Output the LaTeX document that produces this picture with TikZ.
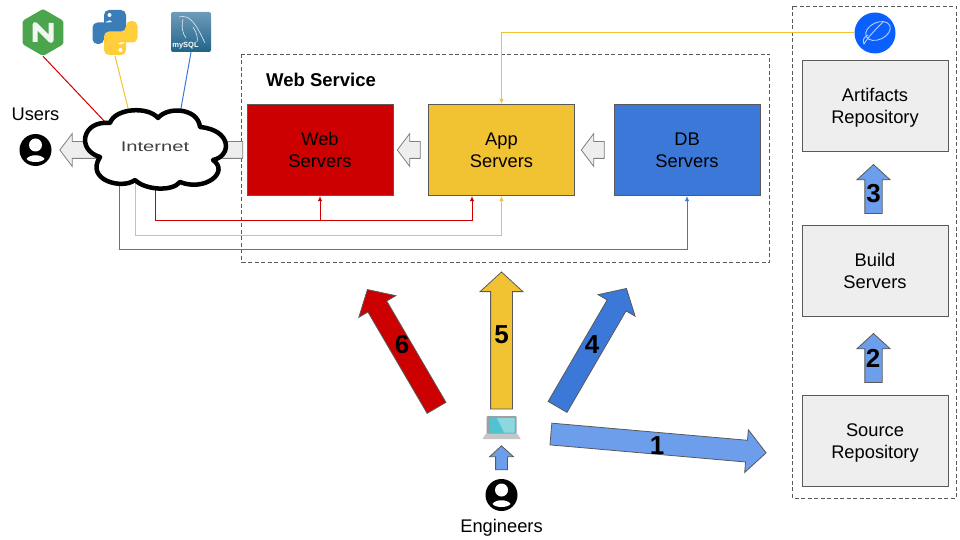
\documentclass[tikz,border=0pt]{standalone}
\usepackage{fontspec}
\setmainfont{Liberation Sans}
\usetikzlibrary{arrows.meta,shapes.arrows,shapes.geometric}
\definecolor{webred}{HTML}{CC0000}
\definecolor{appyellow}{HTML}{F1C232}
\definecolor{dbblue}{HTML}{3C78D8}
\definecolor{stepblue}{HTML}{6D9EEB}
\definecolor{boxgrey}{HTML}{EEEEEE}
\definecolor{edgegrey}{HTML}{595959}
\definecolor{nginxgreen}{HTML}{4AA54C}
\definecolor{pyblue}{HTML}{3B7DB8}
\definecolor{pyyellow}{HTML}{FFCE3A}
\definecolor{dicon}{HTML}{0A60FF}
\definecolor{sqltop}{HTML}{6F9BBA}
\definecolor{sqlbottom}{HTML}{1F6489}
\definecolor{screenteal}{HTML}{4FC3D1}
\definecolor{screenlight}{HTML}{8DD7DF}
\begin{document}
\begin{tikzpicture}[x=1pt,y=-1pt,
		box/.style = {shape=rectangle, draw=edgegrey, line width=1pt, align=center,
			minimum width=146pt, minimum height=91pt, inner sep=0pt,
			font=\fontsize{18.3}{22}\selectfont},
		repobox/.style = {box, fill=boxgrey, text depth=0pt},
		group/.style = {draw=edgegrey, line width=0.8pt, dash pattern=on 4pt off 2.5pt},
		arrowbase/.style = {single arrow, draw=edgegrey, line width=0.8pt, inner sep=0pt,
			single arrow tip angle=95, text depth=0pt, text width=0pt},
		bigarrow/.style = {arrowbase, text height=21pt, single arrow head extend=10.5pt},
		steparrow/.style = {arrowbase, fill=stepblue, rotate=90, text height=16.5pt,
			single arrow head extend=8pt, minimum height=49pt},
		greyarrow/.style = {arrowbase, fill=boxgrey, draw=gray, rotate=180, text height=16pt,
			single arrow head extend=8pt, single arrow tip angle=106},
		number/.style = {font=\fontsize{26}{26}\bfseries\selectfont, inner sep=0pt},
		label/.style = {font=\fontsize{18.3}{22}\selectfont, inner sep=0pt},
		link/.style = {line width=1pt},
		tip/.style = {-{Latex[length=5pt,width=4.5pt]}},
		usericon/.style = {shape=circle, fill=black, minimum size=32pt, inner sep=0pt}]
	\useasboundingbox (0,0) rectangle (960,540);

	% dashed groups
	\draw[group] (241.5,54) rectangle (769.5,262);
	\draw[group] (792.5,6) rectangle (956,498);
	\node[font=\fontsize{18.5}{22}\bfseries\selectfont, inner sep=0pt] (webservice) at (321,79.5) {Web Service};

	% servers
	\node[box, fill=webred] (webbox) at (320,150) {Web\\Servers};
	\node[box, fill=appyellow] (appbox) at (501.5,150) {App\\Servers};
	\node[box, fill=dbblue] (dbbox) at (687,150) {DB\\Servers};
	\node[repobox] (artifacts) at (875,106) {Artifacts\\Repository};
	\node[repobox] (build) at (875,271) {Build\\Servers};
	\node[repobox] (source) at (875,441) {Source\\Repository};

	% grey arrows
	\node[greyarrow, minimum height=183pt] (usersarrow) at (154.5,150) {};
	\node[greyarrow, minimum height=23pt] (webarrow) at (412,150) {};
	\node[greyarrow, minimum height=23pt] (apparrow) at (596,150) {};

	% numbered arrows
	\node[bigarrow, fill=stepblue, rotate=-5, minimum height=216pt] (stepone) at (653.5,443) {};
	\node[steparrow] (steptwo) at (873.5,362) {};
	\node[steparrow] (stepthree) at (873.5,193) {};
	\node[bigarrow, fill=dbblue, rotate=59.8, minimum height=137pt] (stepfour) at (589.5,352) {};
	\node[bigarrow, fill=appyellow, rotate=90, minimum height=137pt] (stepfive) at (501.5,345.5) {};
	\node[bigarrow, fill=webred, rotate=120.3, minimum height=137pt] (stepsix) at (404.5,353) {};
	\node[arrowbase, fill=stepblue, rotate=90, text height=11pt, minimum height=24pt,
		single arrow head extend=6pt] (laptoparrow) at (501.5,460.5) {};
	\node[number] (numone) at (657,446) {1};
	\node[number] (numtwo) at (873,358) {2};
	\node[number] (numthree) at (873.5,194) {3};
	\node[number] (numfour) at (592,345) {4};
	\node[number] (numfive) at (501.5,335) {5};
	\node[number] (numsix) at (402,345) {6};

	% logos
	\node[regular polygon, regular polygon sides=6, regular polygon rotate=30, fill=nginxgreen,
		rounded corners=1.5pt, minimum size=47pt, inner sep=0pt] (nginx) at (43,32.5) {};
	\draw[white!92!nginxgreen, line width=5pt, line join=round] (35,42) -- (35,24.5) -- (51,40.5) -- (51,23);
	\node[minimum size=46pt, inner sep=0pt] (python) at (115,32.5) {};
	\foreach \pycolor/\pyangle in {pyblue/0,pyyellow/180} {
		\begin{scope}[rotate around={\pyangle:(115,32.5)}]
			\fill[\pycolor, rounded corners=5pt] (104,22) -- (104,10) -- (126,10) -- (126,33.5)
				-- (104,33.5) -- (104,44) -- (92.5,44) -- (92.5,22.5) -- (115,22.5) -- (115,20.5) -- (104,20.5) -- cycle;
			\fill[white] (109.5,15) circle (2pt);
		\end{scope}
	}
	\node[rounded corners=2pt, top color=sqltop, bottom color=sqlbottom,
		minimum size=40pt, inner sep=0pt] (mysql) at (191,32) {};
	\draw[white!85!pyblue, line width=0.6pt] (179,17) .. controls (190,14) and (196,24) .. (205,43)
		(183,19) .. controls (181,28) and (183,34) .. (186,38) (193,27) .. controls (197,33) and (198,38) .. (197,42);
	\node[text=white, font=\fontsize{7.5}{8}\bfseries\selectfont, inner sep=0pt] (mysqltext) at (185.5,46) {mySQL};
	\node[shape=circle, fill=dicon, minimum size=41pt, inner sep=0pt] (dlogo) at (875,33) {};
	\draw[white!70!dicon, line width=0.9pt, rotate around={25:(878,31)}] (878,31) ellipse (13pt and 8.5pt);
	\draw[white!70!dicon, line width=0.9pt] (883,22) .. controls (875,30) and (868,37) .. (864,44) .. controls (862,40) and (864,37) .. (868,35);

	% people
	\foreach \usericonname/\usericonx/\usericony in {users/35.5/150,engineers/501.5/495} {
		\node[usericon] (\usericonname) at (\usericonx,\usericony) {};
		\fill[white] (\usericonx,\usericony-5) circle (6.5pt);
		\fill[white] (\usericonx-9,\usericony+9) .. controls (\usericonx-6,\usericony+4) and (\usericonx+6,\usericony+4) .. (\usericonx+9,\usericony+9)
			.. controls (\usericonx+6,\usericony+13) and (\usericonx-6,\usericony+13) .. cycle;
	}
	\node[label] (userslabel) at (35.5,114) {Users};
	\node[label] (engineerslabel) at (501.5,527.5) {Engineers};

	% laptop
	\node[minimum width=38pt, minimum height=23pt, inner sep=0pt] (laptop) at (501.5,427.5) {};
	\fill[gray!75, rounded corners=1pt] (486.5,416) rectangle (516.5,434);
	\fill[screenteal] (488.5,418) rectangle (514.5,432.5);
	\fill[screenlight] (497,418) -- (514.5,418) -- (514.5,432.5) -- (504,432.5) -- cycle;
	\fill[gray!45, rounded corners=0.5pt] (486,433.5) -- (517,433.5) -- (521,439) -- (482.5,439) -- cycle;

	% connectors
	\coordinate (cloudred) at (155,185);
	\coordinate (cloudyellow) at (135,178);
	\coordinate (cloudblue) at (119,178);
	\coordinate (cloudnginx) at (107,124);
	\coordinate (cloudpython) at (130,116);
	\coordinate (cloudmysql) at (180,114);
	\coordinate (redturn) at (472,220);
	\draw[link, webred, tip] (cloudred) |- (redturn) -- (redturn |- appbox.south);
	\draw[link, webred, tip] (webbox.south |- redturn) -- (webbox.south);
	\draw[link, appyellow, tip] (cloudyellow) |- (appbox.south |- 0,235) -- (appbox.south);
	\draw[link, dbblue, tip] (cloudblue) |- (dbbox.south |- 0,249) -- (dbbox.south);
	\draw[link, appyellow, tip] (dlogo) -| (appbox.north);
	\draw[link, webred] (nginx.south) -- (cloudnginx);
	\draw[link, appyellow] (python.south) -- (cloudpython);
	\draw[link, dbblue] (mysql.south) -- (cloudmysql);

	% cloud
	\draw[black, fill=white, line width=4.5pt, line join=round] (110,123)
		.. controls (115,108) and (148,106) .. (158,118)
		.. controls (168,106) and (198,108) .. (200,127)
		.. controls (232,130) and (232,156) .. (213,160)
		.. controls (230,172) and (205,192) .. (180,182)
		.. controls (172,192) and (145,190) .. (135,180)
		.. controls (122,190) and (85,180) .. (100,157)
		.. controls (76,150) and (82,120) .. cycle;
	\node[inner sep=0pt] (internet) at (155,147)
		{\fontsize{14}{14}\selectfont\scalebox{1.44}[1]{\textcolor{black!75}{Internet}}};
\end{tikzpicture}
\end{document}
